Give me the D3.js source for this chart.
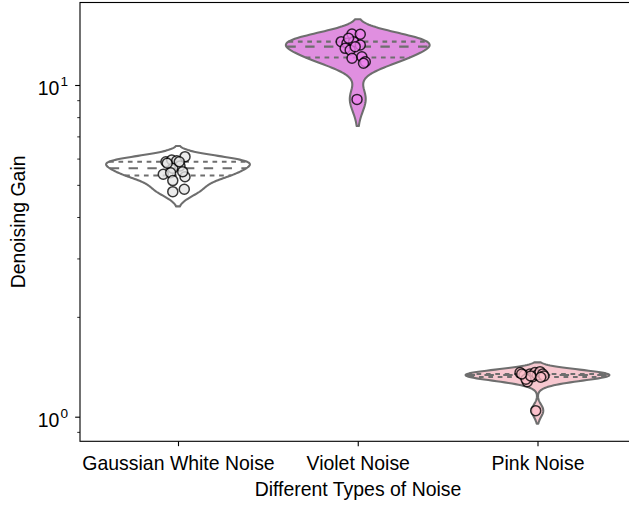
<!DOCTYPE html>
<html><head><meta charset="utf-8">
<script src="https://cdn.jsdelivr.net/npm/d3@7"></script>
<style>
body{margin:0;background:#fff}
text{font-family:"Liberation Sans",Arial,sans-serif;fill:#000}
</style>
</head><body>
<svg id="c" width="629" height="506"></svg>
<script>
// ---- data ----
const categories = ["Gaussian White Noise", "Violet Noise", "Pink Noise"];
const gaussianValues = [5.87, 5.94, 5.91, 6.08, 5.70, 5.61, 5.38, 5.44, 5.29, 5.48, 5.15, 4.77, 4.85, 5.81, 5.87];
const violetValues   = [13.51, 13.36, 14.25, 14.22, 13.51, 12.90, 13.20, 12.75, 12.17, 12.04, 11.75, 11.63, 9.05, 13.05, 13.83];
const pinkValues     = [1.358, 1.336, 1.275, 1.345, 1.320, 1.358, 1.336, 1.367, 1.345, 1.327, 1.297, 1.327, 1.315, 1.345, 1.043];
// horizontal strip jitter (in category units)
const gaussianJitter = [-0.067, -0.035, -0.007, 0.039, 0.011, -0.029, -0.082, -0.041, 0.039, 0.026, -0.029, -0.029, 0.035, -0.060, 0.007];
const violetJitter   = [-0.092, -0.060, -0.032, 0.014, -0.023, -0.070, 0.014, -0.042, 0.023, -0.032, 0.042, 0.032, -0.004, -0.014, -0.051];
const pinkJitter     = [-0.097, -0.075, -0.057, -0.042, -0.027, -0.014, -0.001, 0.014, 0.029, 0.036, -0.064, -0.038, 0.018, -0.088, -0.010];
const yMajorTicks = [1, 10];
const yMajorTickExponents = ["0", "1"];
const xAxisLabel = "Different Types of Noise";
const yAxisLabel = "Denoising Gain";

// ---- styles / layout ----
const violinFill = ["#ffffff", "#e08fe0", "#f7c8d0"];
const pointFill  = ["#e6e6e6", "#ee82ee", "#ffc0cb"];
const gray = "#6e6e6e";
const FS = 19.44;
const L = 80, R = 636, T = 2.5, B = 441.3;

const svg = d3.select("#c");
const x = d3.scaleLinear().domain([0, 2]).range([178, 537.5]);
const step = x(1) - x(0);
const y = d3.scaleLog().domain([0.843, 17.73]).range([B, T]);

const groups = [
  {vals: gaussianValues, jit: gaussianJitter},
  {vals: violetValues, jit: violetJitter},
  {vals: pinkValues, jit: pinkJitter}
];

function kde(vals) {
  const n = vals.length;
  const bw = d3.deviation(vals) * Math.pow(n, -0.2);
  const lo = d3.min(vals) - 2 * bw, hi = d3.max(vals) + 2 * bw;
  const grid = d3.range(100).map(i => lo + (hi - lo) * i / 99);
  const dens = grid.map(g => d3.sum(vals, v => Math.exp(-0.5 * ((g - v) / bw) ** 2)));
  const mx = d3.max(dens);
  return grid.map((g, i) => ({v: g, d: dens[i] / mx}));
}
function interp(pts, v) {
  for (let i = 1; i < pts.length; i++) {
    if (pts[i].v >= v) {
      const a = pts[i - 1], b = pts[i];
      const t = (v - a.v) / (b.v - a.v);
      return a.d + t * (b.d - a.d);
    }
  }
  return pts[pts.length - 1].d;
}

const halfW = 0.4 * step;
const plot = svg.append("g");

groups.forEach((g, i) => {
  const cx = x(i);
  const pts = kde(g.vals);
  const area = d3.area()
    .y(d => y(d.v))
    .x0(d => cx - d.d * halfW)
    .x1(d => cx + d.d * halfW);
  plot.append("path").datum(pts)
    .attr("d", d => area(d) )
    .attr("fill", violinFill[i])
    .attr("stroke", gray)
    .attr("stroke-width", 2.08)
    .attr("stroke-linejoin", "round");
  const sorted = g.vals.slice().sort(d3.ascending);
  [[0.25, "4.7 4.7"], [0.5, "9.4 9.4"], [0.75, "4.7 4.7"]].forEach(([p, dash]) => {
    const q = d3.quantile(sorted, p);
    const w = interp(pts, q) * halfW;
    plot.append("line")
      .attr("x1", cx - w).attr("x2", cx + w)
      .attr("y1", y(q)).attr("y2", y(q))
      .attr("stroke", gray).attr("stroke-width", 2.08)
      .attr("stroke-dasharray", dash);
  });
});

groups.forEach((g, i) => {
  const cx = x(i);
  plot.append("g").selectAll("circle").data(g.vals).join("circle")
    .attr("cx", (d, k) => cx + g.jit[k] * step)
    .attr("cy", d => y(d))
    .attr("r", 5)
    .attr("fill", pointFill[i])
    .attr("stroke", "#000")
    .attr("stroke-width", 1.5)
    .attr("opacity", 0.78);
});

// ---- axes ----
const minor = y.ticks().filter(v => Math.abs(Math.log10(v) - Math.round(Math.log10(v))) > 1e-9);
const yMinor = svg.append("g").attr("transform", `translate(${L},0)`)
  .call(d3.axisLeft(y).tickValues(minor).tickSize(2.78).tickFormat(""));
yMinor.select(".domain").remove();
yMinor.selectAll("line").attr("stroke", "#000").attr("stroke-width", 0.83);

const yMajor = svg.append("g").attr("transform", `translate(${L},0)`)
  .call(d3.axisLeft(y).tickValues(yMajorTicks).tickSize(4.86).tickFormat(""));
yMajor.select(".domain").remove();
yMajor.selectAll("line").attr("stroke", "#000").attr("stroke-width", 1.11);
yMajor.selectAll(".tick").each(function(d, k) {
  const t = d3.select(this).append("text")
    .attr("x", -12).attr("y", 10)
    .attr("text-anchor", "end")
    .style("font-size", FS + "px");
  t.append("tspan").text("10");
  t.append("tspan").attr("dy", -9).attr("dx", 1).style("font-size", (FS * 0.7) + "px")
    .text(yMajorTickExponents[k]);
});

const xAxis = svg.append("g").attr("transform", `translate(0,${B})`)
  .call(d3.axisBottom(x).tickValues([0, 1, 2]).tickSize(4.86).tickFormat(i => categories[i]));
xAxis.select(".domain").remove();
xAxis.selectAll("line").attr("stroke", "#000").attr("stroke-width", 1.11);
xAxis.selectAll("text").attr("y", 29).attr("dy", null)
  .style("font-size", FS + "px").attr("font-family", null);

// spines
svg.append("rect").attr("x", L).attr("y", T).attr("width", R - L).attr("height", B - T)
  .attr("fill", "none").attr("stroke", "#000").attr("stroke-width", 1.11);

// axis labels
svg.append("text").attr("x", 358).attr("y", 496).attr("text-anchor", "middle")
  .style("font-size", FS + "px").text(xAxisLabel);
svg.append("text").attr("transform", `translate(25,${(T + B) / 2}) rotate(-90)`)
  .attr("text-anchor", "middle").style("font-size", FS + "px").text(yAxisLabel);
</script>
</body></html>
